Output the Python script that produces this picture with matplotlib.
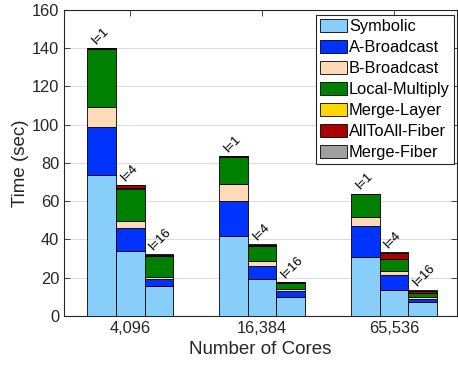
import numpy as np
import matplotlib
matplotlib.use("Agg")
import matplotlib.pyplot as plt

plt.rcParams["font.family"] = ["Liberation Sans", "DejaVu Sans"]

cores = ["4,096", "16,384", "65,536"]
layers = ["l=1", "l=4", "l=16"]
phases = ["Symbolic", "A-Broadcast", "B-Broadcast", "Local-Multiply",
          "Merge-Layer", "AllToAll-Fiber", "Merge-Fiber"]
colors = ["#87CEFA", "#0033FF", "#FFDAB9", "#008000", "#FFD700", "#AA0000", "#A0A0A0"]

# seconds per phase, rows = cores, cols = l=1, l=4, l=16
symbolic = [[73.6, 34.1, 15.7], [41.8, 19.0, 9.6], [30.8, 13.5, 7.2]]
a_bcast = [[25.0, 12.0, 3.7], [18.5, 7.1, 3.6], [16.4, 8.0, 1.7]]
b_bcast = [[10.7, 3.7, 0.8], [8.5, 2.6, 0.7], [4.7, 2.1, 0.7]]
local_mult = [[30.2, 16.6, 11.0], [14.3, 7.7, 3.2], [11.6, 5.9, 2.1]]
merge_layer = [[0.1, 0.3, 0.2], [0.1, 0.2, 0.1], [0.1, 0.2, 0.2]]
alltoall = [[0.3, 1.5, 0.6], [0.2, 0.5, 0.3], [0.2, 3.2, 1.1]]
merge_fiber = [[0.1, 0.3, 0.2], [0.1, 0.2, 0.1], [0.1, 0.3, 0.3]]

series = [symbolic, a_bcast, b_bcast, local_mult, merge_layer, alltoall, merge_fiber]

fig = plt.figure(figsize=(4.58, 3.71), dpi=100)
ax = fig.add_axes([0.1397, 0.149, 0.858, 0.824])

x = np.arange(1, len(cores) + 1)
width = 0.218
offsets = [-width, 0.0, width]

for j, off in enumerate(offsets):
    bottom = np.zeros(len(cores))
    for k, data in enumerate(series):
        vals = np.array([row[j] for row in data])
        ax.bar(x + off, vals, width, bottom=bottom, color=colors[k],
               edgecolor="black", linewidth=0.6,
               label=phases[k] if j == 0 else None, zorder=3)
        bottom += vals
    # rotated layer-count tag above each stack
    for xi, top in zip(x + off, bottom):
        ax.text(xi - 0.025, top + 0.6, layers[j], rotation=45, rotation_mode="anchor",
                ha="left", va="bottom", fontsize=9.5)

ax.set_xlim(0.497, 3.478)
ax.set_ylim(0, 160)
ax.set_yticks(range(0, 161, 20))
ax.set_xticks(x)
ax.set_xticklabels(cores)
ax.tick_params(direction="in", length=4, width=0.6, labelsize=11.8,
               top=True, right=True, colors="#262626", labelcolor="#262626")
ax.yaxis.grid(True, color="#DDDDDD", linewidth=0.8, zorder=0)
ax.set_axisbelow(True)
for sp in ax.spines.values():
    sp.set_linewidth(0.8)
    sp.set_color("#262626")

ax.set_xlabel("Number of Cores", fontsize=13.5, color="#262626", labelpad=4)
ax.set_ylabel("Time (sec)", fontsize=13.5, color="#262626", labelpad=2)

leg = ax.legend(loc="upper right", bbox_to_anchor=(0.992, 0.984), borderaxespad=0,
                fontsize=11.8, fancybox=False, framealpha=1, edgecolor="#262626",
                handlelength=1.65, handleheight=0.83, handletextpad=0.12,
                labelspacing=0.36, borderpad=0.25)
leg.get_frame().set_linewidth(0.8)

fig.savefig("out.png", dpi=100)
